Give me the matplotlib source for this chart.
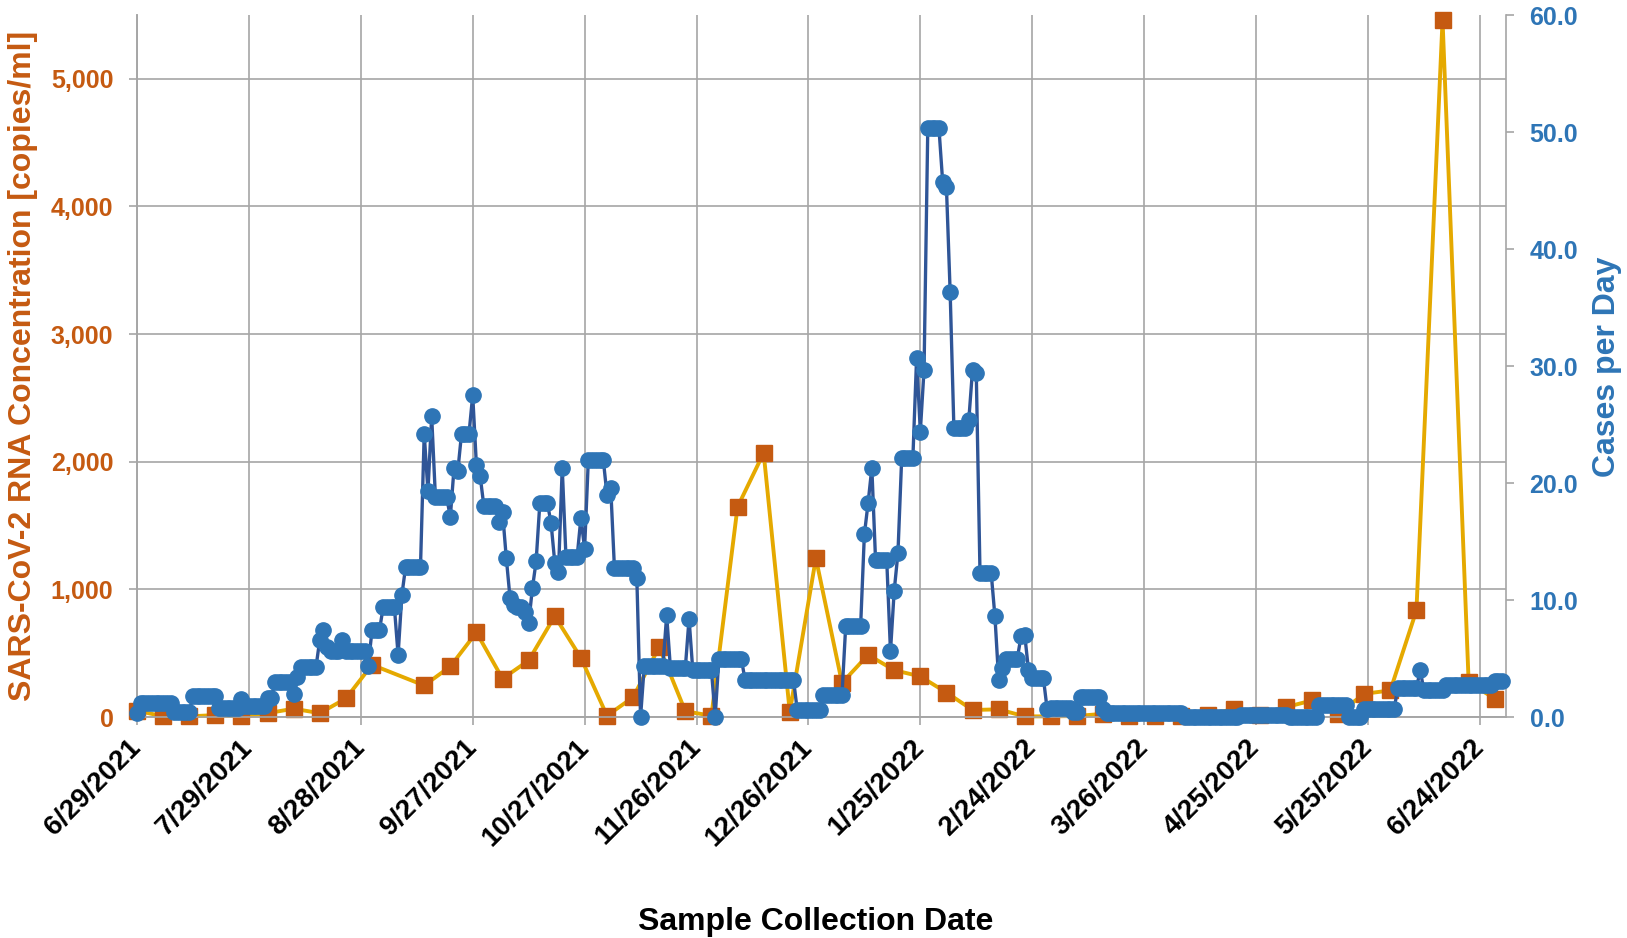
import datetime as dt
import numpy as np
import matplotlib
matplotlib.use('Agg')
import matplotlib.pyplot as plt
from matplotlib.ticker import FuncFormatter

plt.rcParams['font.family'] = ['Liberation Sans', 'DejaVu Sans']
plt.rcParams['font.weight'] = 'bold'

# Colours (Excel style)
ORANGE = '#C55A11'
GOLD = '#E5A900'
NAVY = '#2F5597'
BLUE = '#2E75B6'
GRID = '#A6A6A6'

start = dt.date(2021, 6, 29)

# Weekly wastewater samples: days after 6/29/2021 and RNA concentration [copies/ml]
sample_days = [0, 7, 14, 21, 28, 35, 42, 49, 56, 63,
               77, 84, 91, 98, 105, 112, 119, 126, 133, 140,
               147, 154, 161, 168, 175, 182, 189, 196, 203, 210,
               217, 224, 231, 238, 245, 252, 259, 266, 273, 280,
               287, 294, 301, 308, 315, 322, 329, 336, 343, 350,
               357, 364]
rna_conc = [50, 5, 5, 15, 5, 30, 65, 30, 145, 409,
            247, 396, 663, 300, 443, 790, 464, 10, 155, 548,
            45, 10, 1646, 2069, 40, 1244, 267, 487, 367, 318,
            192, 55, 60, 5, 5, 8, 25, 5, 5, 5,
            12, 64, 12, 77, 130, 25, 182, 208, 835, 5460,
            273, 143]

run_days = [1, 9, 5, 7, 6, 1, 6, 2, 5, 1,
            1, 5, 1, 1, 1, 3, 1, 6, 1, 3,
            4, 1, 1, 5, 1, 1, 1, 4, 1, 1,
            1, 3, 1, 1, 1, 4, 1, 1, 1, 1,
            1, 2, 1, 1, 1, 1, 3, 1, 1, 1,
            1, 4, 1, 1, 5, 1, 1, 6, 1, 1,
            6, 1, 5, 1, 6, 1, 7, 14, 7, 6,
            5, 1, 1, 1, 4, 1, 1, 1, 4, 1,
            1, 1, 4, 1, 1, 1, 4, 1, 1, 1,
            4, 1, 1, 1, 4, 1, 1, 1, 4, 1,
            6, 2, 6, 1, 21, 15, 13, 8, 8, 4,
            9, 6, 1, 6, 13, 3]
run_cases = [0.3, 1.2, 0.4, 1.8, 0.8, 1.5, 0.9, 1.6, 3.0, 2.0,
             3.4, 4.3, 6.6, 7.4, 6.0, 5.6, 6.6, 5.6, 4.4, 7.4,
             9.4, 5.3, 10.4, 12.8, 24.2, 19.3, 25.7, 18.8, 17.1, 21.3,
             21.0, 24.2, 27.5, 21.5, 20.6, 18.0, 16.7, 17.5, 13.6, 10.2,
             9.6, 9.4, 9.0, 8.0, 11.0, 13.3, 18.3, 16.6, 13.2, 12.4,
             21.3, 13.7, 17.0, 14.4, 22.0, 19.0, 19.6, 12.7, 11.9, 0.0,
             4.4, 8.7, 4.2, 8.4, 4.0, 0.0, 5.0, 3.2, 0.6, 1.9,
             7.8, 15.6, 18.3, 21.3, 13.4, 5.6, 10.8, 14.0, 22.1, 30.7,
             24.4, 29.7, 50.3, 45.7, 45.3, 36.3, 24.7, 25.4, 29.7, 29.4,
             12.3, 8.6, 3.2, 4.2, 5.0, 6.9, 7.0, 4.0, 3.3, 0.66,
             0.74, 0.4, 1.74, 0.7, 0.3, 0.0, 0.2, 0.0, 1.0, 0.0,
             0.66, 2.45, 4.0, 2.3, 2.7, 3.1]

cases = np.repeat(run_cases, run_days)
case_dates = [start + dt.timedelta(days=i) for i in range(len(cases))]
rna_dates = [start + dt.timedelta(days=d) for d in sample_days]
tick_dates = [start + dt.timedelta(days=30 * k) for k in range(13)]

fig = plt.figure(figsize=(16.27, 9.38), dpi=100)
ax = fig.add_axes([0.0842, 0.2356, 0.8414, 0.7484])
ax2 = ax.twinx()

# RNA concentration (left axis)
ax.plot(rna_dates, rna_conc, color=GOLD, lw=2.8, marker='s', ms=12,
        mfc=ORANGE, mec=ORANGE, clip_on=False, zorder=3)

# Cases per day (right axis)
ax2.plot(case_dates, cases, color=NAVY, lw=2.4, marker='o', ms=11,
         mfc=BLUE, mec=BLUE, clip_on=False, zorder=3)

ax.set_xlim(start, start + dt.timedelta(days=367))
ax.set_ylim(0, 5500)
ax2.set_ylim(0, 60)

ax.set_yticks(range(0, 5001, 1000))
ax.yaxis.set_major_formatter(FuncFormatter(lambda v, p: f'{v:,.0f}'))
ax2.set_yticks(range(0, 61, 10))
ax2.yaxis.set_major_formatter(FuncFormatter(lambda v, p: f'{v:.1f}'))

ax.set_xticks(tick_dates)
ax.set_xticklabels([f'{d.month}/{d.day}/{d.year}' for d in tick_dates],
                   rotation=45, ha='right', va='center', rotation_mode='anchor')

ax.grid(True, color=GRID, lw=1.2)
ax.set_axisbelow(True)
ax2.grid(False)

for a in (ax, ax2):
    a.spines['top'].set_visible(False)
    for s in ('left', 'right', 'bottom'):
        a.spines[s].set_color(GRID)
        a.spines[s].set_linewidth(1.2)
ax.spines['right'].set_visible(False)

ax.tick_params(axis='x', colors=GRID, labelcolor='black', labelsize=20,
               length=6, width=1.2, pad=13)
ax.tick_params(axis='y', colors=GRID, labelcolor=ORANGE, labelsize=18,
               length=6, width=1.2, pad=11)
ax2.tick_params(axis='y', colors=GRID, labelcolor=BLUE, labelsize=18,
                length=6, width=1.2, pad=11)

fig.text(0.014, 0.61, 'SARS-CoV-2 RNA Concentration [copies/ml]', rotation=90,
         ha='center', va='center', color=ORANGE, fontsize=23, fontweight='bold')
fig.text(0.988, 0.609, 'Cases per Day', rotation=90,
         ha='center', va='center', color=BLUE, fontsize=23, fontweight='bold')
fig.text(0.5015, 0.017, 'Sample Collection Date', ha='center', va='center',
         color='black', fontsize=23, fontweight='bold')

fig.savefig('out.png', dpi=100)
